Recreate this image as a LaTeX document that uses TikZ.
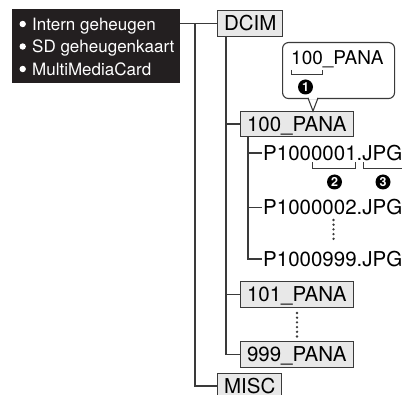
\documentclass[tikz,border=0pt]{standalone}
\usepackage{fontspec}
\setmainfont{TeX Gyre Heros}
\definecolor{linegray}{HTML}{3A3A3A}
\definecolor{boxgray}{HTML}{E8E8E8}
\definecolor{memblack}{HTML}{231F20}
\begin{document}
\begin{tikzpicture}[x=1pt,y=-1pt,
 line/.style={draw=linegray, line width=1.2pt},
 folder/.style={draw=linegray, line width=1.1pt, fill=boxgray, inner xsep=6.5pt, inner ysep=0pt, minimum height=25.5pt, text height=14.7pt, text depth=0pt, anchor=west, font=\fontsize{20.5}{20.5}\selectfont},
 file/.style={inner xsep=1pt, inner ysep=0pt, text height=14.7pt, text depth=0pt, anchor=west, font=\fontsize{20.5}{20.5}\selectfont},
 memtext/.style={text=white, inner sep=0pt, text height=12.2pt, text depth=0pt, anchor=west, font=\fontsize{17}{17}\selectfont},
 bul/.style={fill=white},
 num/.style={circle, fill=black, text=white, inner sep=0pt, minimum size=15pt, font=\fontsize{12.5}{12.5}\selectfont\bfseries},
 dotline/.style={draw=linegray, line width=2.6pt, line cap=round, dash pattern=on 0pt off 4.7pt}]
\fill[white] (0,0) rectangle (402,395);
\clip (0,0) rectangle (402,395);
% storage box
\node[fill=memblack, minimum width=168pt, minimum height=74pt, inner sep=0pt, anchor=north west] (mem) at (12,9) {};
\node[memtext] (m1) at (32,24) {Intern geheugen};
\node[memtext] (m2) at (32,46.5) {SD geheugenkaart};
\node[memtext] (m3) at (32,69) {MultiMediaCard};
\fill[bul] (22.7,24) circle (3.2);
\fill[bul] (22.7,46.5) circle (3.2);
\fill[bul] (22.7,69) circle (3.2);
% folders
\node[folder] (dcim) at (217,23.5) {DCIM};
\node[folder] (p100) at (240,124) {100\_PANA};
\node[folder] (p101) at (240,294.5) {101\_PANA};
\node[folder] (p999) at (240,354.5) {999\_PANA};
\node[folder] (misc) at (217,386) {MISC};
% files
\node[file] (f1) at (262,153) {P1000001.JPG};
\node[file] (f2) at (262,207.5) {P1000002.JPG};
\node[file] (f3) at (262,259) {P1000999.JPG};
% connectors
\coordinate (trunk) at (195,23.5);
\draw[line] (mem.east |- dcim.west) -- (dcim.west);
\draw[line] (trunk) |- (misc.west);
\coordinate (dtrunk) at (226,36);
\draw[line] (dtrunk) |- (p999.west);
\draw[line] (dtrunk |- p100.west) -- (p100.west);
\draw[line] (dtrunk |- p101.west) -- (p101.west);
\coordinate (ftrunk) at (248,137);
\draw[line] (ftrunk) |- (f3.west);
\draw[line] (ftrunk |- f1.west) -- (f1.west);
\draw[line] (ftrunk |- f2.west) -- (f2.west);
% dotted continuations
\draw[dotline] (333.5,220) -- (333.5,243);
\draw[dotline] (297,313) -- (297,337);
% brackets under file name
\draw[line, line width=1pt] (312,162.5) -- (312,169) -- (355,169) -- (355,162.5);
\draw[line, line width=1pt] (363,162.5) -- (363,169) -- (410,169);
\node[num] (n2) at (334.5,182) {2};
\node[num] (n3) at (383,182) {3};
% callout bubble
\node[draw=linegray, line width=1.1pt, fill=white, rounded corners=6pt, minimum width=112pt, minimum height=56pt, inner sep=0pt, anchor=north west] (bubble) at (282,42) {};
\fill[white] (308.8,96.5) rectangle (317.2,99.5);
\draw[line, line width=1.1pt, line join=miter] (308,98) -- (313,111) -- (318,98);
\node[anchor=west, inner sep=0pt, text height=13.3pt, text depth=0pt, font=\fontsize{19}{19}\selectfont] (btext) at (291,57.7) {100\_PANA};
\draw[line, line width=1pt] (291.5,70) -- (291.5,74.5) -- (322.3,74.5) -- (322.3,70);
\node[num] (n1) at (305.5,87) {1};
\end{tikzpicture}
\end{document}
